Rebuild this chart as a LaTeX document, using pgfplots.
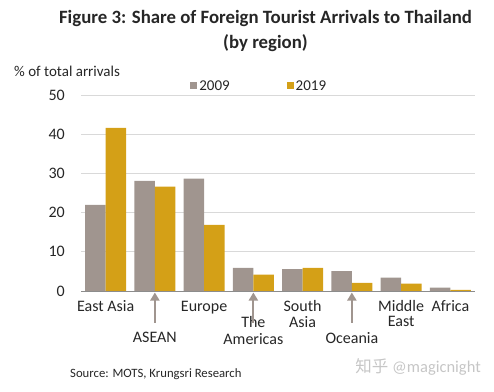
\documentclass[border=0pt]{standalone}
\usepackage{pgfplots}
\pgfplotsset{compat=1.18}
\usepackage{fontspec}
\setmainfont{Carlito}
\newfontfamily\cjk{Noto Sans CJK SC}
\usetikzlibrary{arrows.meta}
\definecolor{gray9}{HTML}{A0958F}
\definecolor{gold9}{HTML}{D4A017}
\definecolor{gridc}{HTML}{D9D9D9}
\definecolor{basec}{HTML}{8C8C8C}
\definecolor{txt}{HTML}{262626}
\begin{document}
\begin{tikzpicture}
\useasboundingbox (0pt,0pt) rectangle (494pt,-391pt);
\node[font=\fontsize{18.8}{25}\selectfont\bfseries, align=center, anchor=center, text=txt] at (265.5pt,-30.5pt) {Figure 3: Share of Foreign Tourist Arrivals to Thailand\\(by region)};
\node[font=\fontsize{15}{17}\selectfont, anchor=west, text=txt, inner sep=0pt] at (14pt,-71pt) {\% of total arrivals};
\node[font=\fontsize{12.7}{14}\selectfont, anchor=west, text=txt, inner sep=0pt] at (70pt,-374pt) {Source: MOTS, Krungsri Research};
\node[font=\fontsize{16.5}{18}\selectfont, anchor=east, text=gray!45, inner sep=0pt] at (481pt,-367pt) {{\cjk 知乎} @magicnight};
\begin{axis}[
  at={(81pt,-291pt)}, anchor=south west,
  scale only axis, width=394pt, height=196pt,
  ybar=0pt, bar width=20.5pt,
  xmin=-0.5, xmax=7.5, ymin=0, ymax=50,
  ytick={0,10,20,30,40,50},
  xtick={0,1,2,3,4,5,6,7},
  /pgf/number format/assume math mode=true,
  xticklabels={
    {\strut East Asia},
    {\strut\\\strut\\\strut ASEAN},
    {\strut Europe},
    {\strut\\\strut The\\\strut Americas},
    {\strut South\\\strut Asia},
    {\strut\\\strut\\\strut Oceania},
    {\strut Middle\\\strut East},
    {\strut Africa}},
  xticklabel style={align=center, anchor=north, inner sep=0pt, yshift=-9pt,
    font=\fontsize{16}{15.5}\selectfont, text=txt},
  yticklabel style={font=\fontsize{16}{18}\selectfont, text=txt, anchor=east, inner sep=0pt, xshift=-16pt},
  major tick length=0pt,
  ymajorgrids, grid style={gridc, line width=0.8pt},
  axis line style={draw=none},
  clip=false,
  legend columns=2,
  legend style={at={(rel axis cs:0.277,1.046)}, anchor=west, draw=none, fill=none,
    inner sep=0pt, font=\fontsize{15}{17}\selectfont, text=txt,
    /tikz/every even column/.append style={column sep=55pt}},
  legend image code/.code={\fill[#1] (0pt,-3.5pt) rectangle (7pt,3.5pt);},
]
\addplot[fill=gray9, draw=none] coordinates {(0,22.0) (1,28.1) (2,28.7) (3,5.9) (4,5.6) (5,5.1) (6,3.4) (7,0.85)};
\addlegendentry{2009}
\addplot[fill=gold9, draw=none] coordinates {(0,41.6) (1,26.6) (2,16.9) (3,4.2) (4,5.9) (5,2.1) (6,1.9) (7,0.3)};
\addlegendentry{2019}
\draw[basec, line width=1pt] (rel axis cs:0,0) -- (rel axis cs:1,0);
\draw[gray9, line width=2pt, -{Triangle[width=9pt,length=8pt]}] ([yshift=-31.5pt]axis cs:1,0) -- ([yshift=-1.5pt]axis cs:1,0);
\draw[gray9, line width=2pt, -{Triangle[width=9pt,length=8pt]}] ([yshift=-31.5pt]axis cs:3,0) -- ([yshift=-1.5pt]axis cs:3,0);
\draw[gray9, line width=2pt, -{Triangle[width=9pt,length=8pt]}] ([yshift=-31.5pt]axis cs:5,0) -- ([yshift=-1.5pt]axis cs:5,0);
\end{axis}
\end{tikzpicture}
\end{document}
